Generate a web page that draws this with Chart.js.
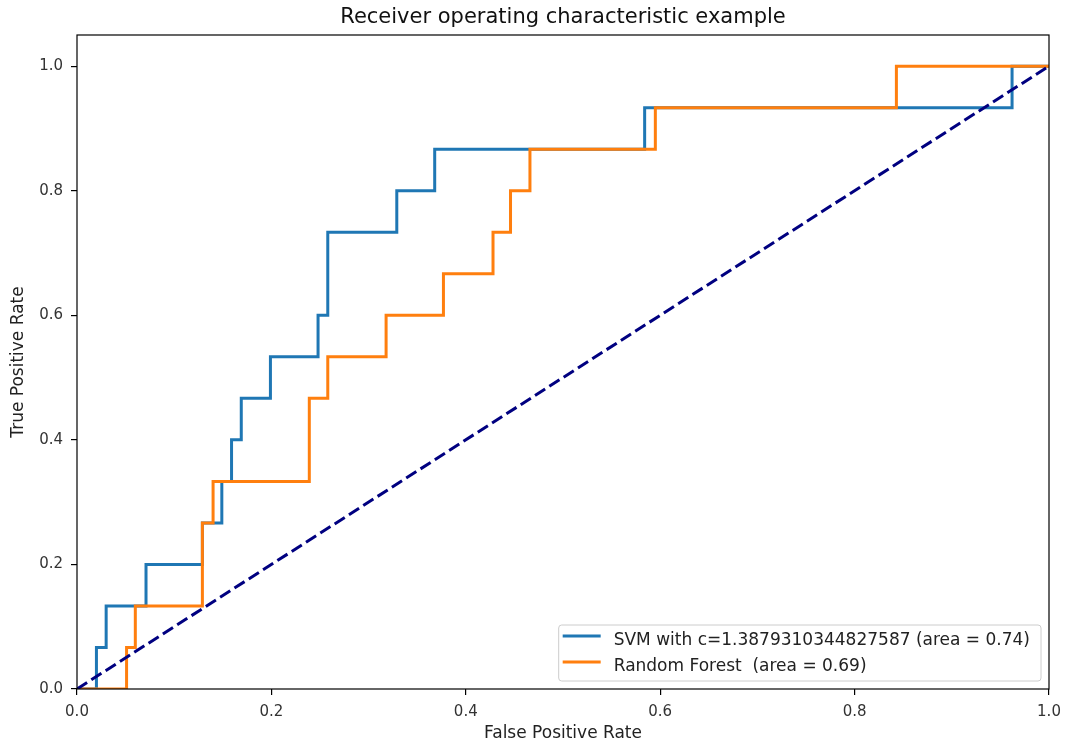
<!DOCTYPE html>
<html>
<head>
<meta charset="utf-8">
<title>ROC</title>
<script src="https://cdn.jsdelivr.net/npm/chart.js@4.4.1/dist/chart.umd.min.js"></script>
<style>
  html, body { margin: 0; padding: 0; background: #fff; }
</style>
</head>
<body>
<canvas id="rocChart" width="1067" height="744"></canvas>
<script>
// ROC points (corner points of the step curves)
const svmFpr = [0, 0.02, 0.02, 0.03, 0.03, 0.071, 0.071, 0.129, 0.129, 0.149, 0.149, 0.159, 0.159, 0.169, 0.169,
  0.199, 0.199, 0.248, 0.248, 0.258, 0.258, 0.329, 0.329, 0.368, 0.368, 0.584, 0.584, 0.962, 0.962, 1];
const svmTpr = [0, 0, 0.0667, 0.0667, 0.1333, 0.1333, 0.2, 0.2, 0.2667, 0.2667, 0.3333, 0.3333, 0.4, 0.4, 0.4667,
  0.4667, 0.5333, 0.5333, 0.6, 0.6, 0.7333, 0.7333, 0.8, 0.8, 0.8667, 0.8667, 0.9333, 0.9333, 1, 1];
const rfFpr = [0, 0.051, 0.051, 0.06, 0.06, 0.129, 0.129, 0.14, 0.14, 0.239, 0.239, 0.258, 0.258, 0.318, 0.318,
  0.377, 0.377, 0.428, 0.428, 0.446, 0.446, 0.466, 0.466, 0.595, 0.595, 0.843, 0.843, 1];
const rfTpr = [0, 0, 0.0667, 0.0667, 0.1333, 0.1333, 0.2667, 0.2667, 0.3333, 0.3333, 0.4667, 0.4667, 0.5333, 0.5333,
  0.6, 0.6, 0.6667, 0.6667, 0.7333, 0.7333, 0.8, 0.8, 0.8667, 0.8667, 0.9333, 0.9333, 1, 1];
const chanceFpr = [0, 1];
const chanceTpr = [0, 1];

const seriesLabels = ['SVM with c=1.3879310344827587 (area = 0.74)', 'Random Forest  (area = 0.69)'];
const tickValues = [0, 0.2, 0.4, 0.6, 0.8, 1.0];
const chartTitle = 'Receiver operating characteristic example';

const FONT = "'DejaVu Sans', sans-serif";
const toPoints = (xs, ys) => xs.map((x, i) => ({ x: x, y: ys[i] }));

// draws the frame, title and the matplotlib-like legend box
const mplDecor = {
  id: 'mplDecor',
  afterDraw(chart) {
    const ctx = chart.ctx;
    const a = chart.chartArea;
    ctx.save();
    // spines
    ctx.strokeStyle = '#000';
    ctx.lineWidth = 1.2;
    ctx.strokeRect(a.left, a.top, a.right - a.left, a.bottom - a.top);
    // title
    ctx.fillStyle = '#111';
    ctx.font = '21px ' + FONT;
    ctx.textAlign = 'center';
    ctx.textBaseline = 'middle';
    ctx.fillText(chartTitle, (a.left + a.right) / 2, 18);
    // legend, lower right
    const items = chart.data.datasets.filter(d => d.label);
    ctx.font = '17px ' + FONT;
    let textW = 0;
    items.forEach(d => { textW = Math.max(textW, ctx.measureText(d.label).width); });
    const rowH = 26, handle = 38, gap = 13;
    const boxW = 4 + handle + gap + textW + 11;
    const boxH = 56;
    const bx = a.right - 8 - boxW, by = a.bottom - 8 - boxH;
    ctx.beginPath();
    ctx.roundRect(bx, by, boxW, boxH, 3);
    ctx.fillStyle = 'rgba(255,255,255,0.85)';
    ctx.fill();
    ctx.strokeStyle = '#cccccc';
    ctx.lineWidth = 1;
    ctx.stroke();
    ctx.textAlign = 'left';
    items.forEach((d, i) => {
      const cy = by + 11 + i * rowH;
      ctx.beginPath();
      ctx.strokeStyle = d.borderColor;
      ctx.lineWidth = 3;
      ctx.moveTo(bx + 4, cy);
      ctx.lineTo(bx + 4 + handle, cy);
      ctx.stroke();
      ctx.fillStyle = '#222';
      ctx.fillText(d.label, bx + 4 + handle + gap, cy + 5);
    });
    ctx.restore();
  }
};

const axisCommon = {
  type: 'linear',
  grid: { display: true, drawOnChartArea: false, drawTicks: true, tickLength: 6, color: '#000', lineWidth: 1.2 },
  border: { display: false },
};

const config = {
  type: 'scatter',
  data: {
    datasets: [
      { label: seriesLabels[0], data: toPoints(svmFpr, svmTpr), showLine: true, borderColor: '#1f77b4',
        borderWidth: 3, pointRadius: 0, order: 3 },
      { label: seriesLabels[1], data: toPoints(rfFpr, rfTpr), showLine: true, borderColor: '#ff7f0e',
        borderWidth: 3, pointRadius: 0, order: 2 },
      { label: '', data: toPoints(chanceFpr, chanceTpr), showLine: true, borderColor: '#000080',
        borderWidth: 3, borderDash: [12, 5], pointRadius: 0, order: 1 }
    ]
  },
  options: {
    responsive: false,
    animation: false,
    layout: { padding: { top: 35, right: 18, bottom: 0, left: 0 } },
    plugins: { legend: { display: false }, title: { display: false }, tooltip: { enabled: false } },
    scales: {
      x: Object.assign({}, axisCommon, {
        min: 0, max: 1,
        afterFit: s => { s.height = 55; s.paddingLeft = 0; s.paddingRight = 0; },
        afterBuildTicks: s => { s.ticks = tickValues.map(v => ({ value: v })); },
        ticks: { padding: 8, color: '#333', font: { family: FONT, size: 15 }, callback: v => v.toFixed(1) },
        title: { display: true, text: 'False Positive Rate', color: '#222', font: { family: FONT, size: 17 },
          padding: { top: 0, bottom: 0 } }
      }),
      y: Object.assign({}, axisCommon, {
        min: 0, max: 1.05,
        afterFit: s => { s.width = 77; s.paddingTop = 0; s.paddingBottom = 0; },
        afterBuildTicks: s => { s.ticks = tickValues.map(v => ({ value: v })); },
        ticks: { padding: 8, color: '#333', font: { family: FONT, size: 15 }, callback: v => v.toFixed(1) },
        title: { display: true, text: 'True Positive Rate', color: '#222', font: { family: FONT, size: 17 },
          padding: { top: 8, bottom: 0 } }
      })
    }
  },
  plugins: [mplDecor]
};

const ctx = document.getElementById('rocChart').getContext('2d');
const rocChart = new Chart(ctx, config);
</script>
</body>
</html>
